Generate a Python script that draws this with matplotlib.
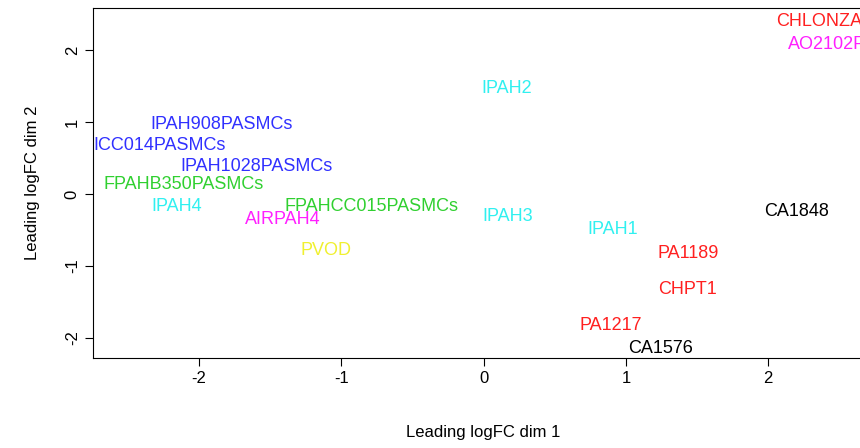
import matplotlib
matplotlib.use("Agg")
import matplotlib.pyplot as plt

plt.rcParams['font.family'] = ['Liberation Sans', 'DejaVu Sans']
plt.rcParams['axes.unicode_minus'] = False

# sample labels, MDS coordinates and colours
labels = ["CHLONZA", "AO2102PASMCs", "IPAH2", "IPAH908PASMCs", "ICC014PASMCs",
          "IPAH1028PASMCs", "FPAHB350PASMCs", "IPAH4", "AIRPAH4", "FPAHCC015PASMCs",
          "IPAH3", "IPAH1", "CA1848", "PA1189", "CHPT1", "PA1217", "CA1576", "PVOD"]
dim1 = [2.36, 2.62, 0.16, -1.84, -2.28, -1.595, -2.11, -2.16, -1.41, -0.79,
        0.17, 0.91, 2.2, 1.44, 1.43, 0.89, 1.24, -1.11]
dim2 = [2.39, 2.07, 1.47, 0.96, 0.68, 0.375, 0.125, -0.17, -0.35, -0.18,
        -0.31, -0.5, -0.24, -0.82, -1.32, -1.83, -2.14, -0.79]
colours = ["#ff2020", "#ff20ff", "#30f0f0", "#3030ff", "#3030ff", "#3030ff",
           "#30d030", "#30f0f0", "#ff20ff", "#30d030", "#30f0f0", "#30f0f0",
           "black", "#ff2020", "#ff2020", "#ff2020", "black", "#f0f030"]

fig = plt.figure(figsize=(8.6, 4.48), dpi=100)
ax = fig.add_axes([93/860, 1 - 358/448, 827/860, 350/448])
for lab, x, y, c in zip(labels, dim1, dim2, colours):
    ax.text(x, y, lab, color=c, ha="center", va="center", fontsize=13, clip_on=True)

ax.set_xlim(-2.745, -2.745 + 827/142.3)
ax.set_ylim(-2.278, 2.583)
ax.spines['right'].set_visible(False)
ax.set_xticks([-2, -1, 0, 1, 2])
ax.set_yticks([-2, -1, 0, 1, 2])
ax.tick_params(labelsize=12, length=6)
for t in ax.get_yticklabels():
    t.set_rotation(90)
    t.set_va("center")
ax.set_xlabel("Leading logFC dim 1", fontsize=12)
ax.xaxis.set_label_coords(0.472, -0.19)
ax.set_ylabel("Leading logFC dim 2", fontsize=12, labelpad=18)
fig.savefig("out.png", dpi=100)
